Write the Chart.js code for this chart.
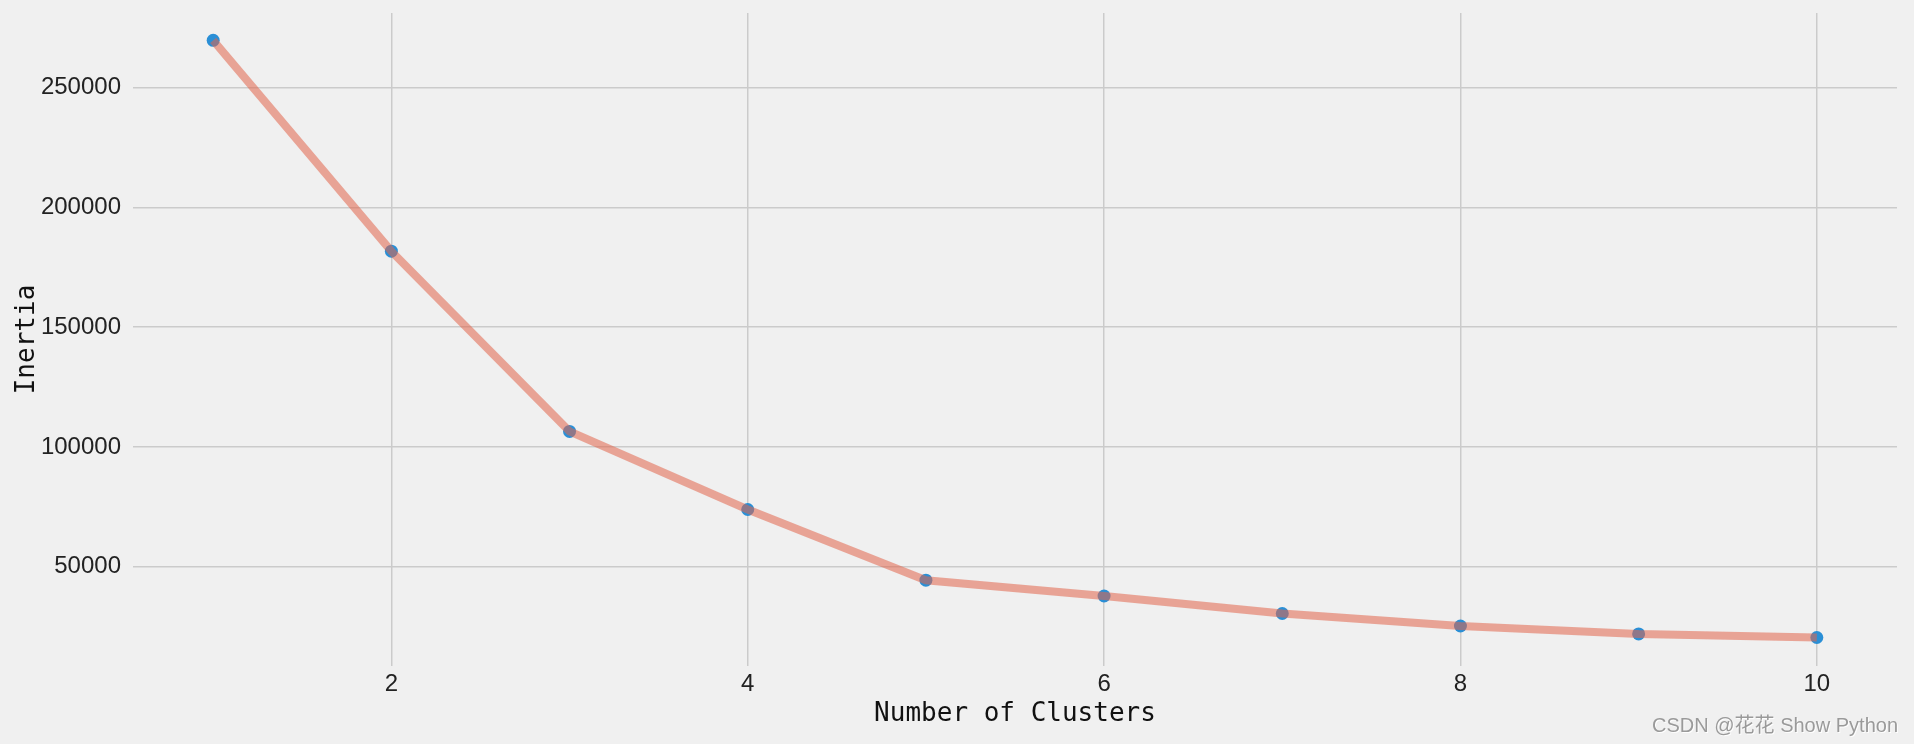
<!DOCTYPE html>
<html>
<head>
<meta charset="utf-8">
<title>Elbow</title>
<script src="https://cdn.jsdelivr.net/npm/chart.js@4.4.1/dist/chart.umd.min.js"></script>
<style>
  html, body { margin: 0; padding: 0; background: #f0f0f0; }
  #wrap { position: relative; width: 1914px; height: 744px; }
</style>
</head>
<body>
<div id="wrap"><canvas id="elbowChart"></canvas></div>
<script>
// --- data ---
const clusters = [1, 2, 3, 4, 5, 6, 7, 8, 9, 10];
const inertia = [269700, 181700, 106500, 73900, 44400, 37800, 30500, 25300, 22000, 20500];
const xTicks = [2, 4, 6, 8, 10];
const yTicks = [50000, 100000, 150000, 200000, 250000];

const points = clusters.map((c, i) => ({ x: c, y: inertia[i] }));

const tickFont = { family: "'Liberation Sans', Arial, sans-serif", size: 24 };
const titleFont = { family: "'DejaVu Sans Mono', monospace", size: 26, lineHeight: 1.2 };

// CSDN watermark in the bottom right corner
const watermark = {
    id: 'watermark',
    afterDraw(chart) {
        const ctx = chart.ctx;
        ctx.save();
        ctx.font = "20px 'Liberation Sans', 'Noto Sans CJK SC', sans-serif";
        ctx.textAlign = 'right';
        ctx.textBaseline = 'alphabetic';
        ctx.shadowColor = 'rgba(255,255,255,0.9)';
        ctx.shadowOffsetX = 1;
        ctx.shadowOffsetY = 1;
        ctx.fillStyle = '#9a9a9a';
        ctx.fillText('CSDN @花花 Show Python', 1898, 732);
        ctx.restore();
    }
};

const ctx = document.getElementById('elbowChart').getContext('2d');
new Chart(ctx, {
    type: 'line',
    data: {
        datasets: [{
            label: 'Inertia',
            data: points,
            borderColor: 'rgba(225, 100, 75, 0.55)',
            borderWidth: 8,
            pointRadius: 0,
            fill: false,
            tension: 0,
            order: 1
        }, {
            type: 'scatter',
            label: 'points',
            data: points,
            backgroundColor: '#2a8fd6',
            borderWidth: 0,
            pointRadius: 6.5,
            order: 2
        }]
    },
    options: {
        responsive: true,
        maintainAspectRatio: false,
        animation: false,
        layout: { padding: { top: 13, right: 17, left: 0, bottom: 0 } },
        plugins: {
            legend: { display: false },
            tooltip: { enabled: false }
        },
        scales: {
            x: {
                type: 'linear',
                min: 0.55,
                max: 10.45,
                afterBuildTicks: s => { s.ticks = xTicks.map(v => ({ value: v })); },
                afterFit: s => { s.height = 78; s.paddingLeft = 0; s.paddingRight = 0; },
                grid: { color: '#cbcbcb', lineWidth: 1.5, drawTicks: false },
                border: { display: false },
                ticks: { color: '#222', font: tickFont, padding: 4, maxRotation: 0 },
                title: {
                    display: true,
                    text: 'Number of Clusters',
                    color: '#111',
                    font: titleFont,
                    padding: { top: 0, bottom: 14 }
                }
            },
            y: {
                type: 'linear',
                min: 8600,
                max: 281100,
                afterBuildTicks: s => { s.ticks = yTicks.map(v => ({ value: v })); },
                afterFit: s => { s.width = 133; s.paddingTop = 0; s.paddingBottom = 0; },
                grid: { color: '#cbcbcb', lineWidth: 1.5, drawTicks: false },
                border: { display: false },
                ticks: { color: '#222', font: tickFont, padding: 12, callback: v => String(v) },
                title: {
                    display: true,
                    text: 'Inertia',
                    color: '#111',
                    font: titleFont,
                    padding: { top: 12, bottom: 0 }
                }
            }
        }
    },
    plugins: [watermark]
});
</script>
</body>
</html>
